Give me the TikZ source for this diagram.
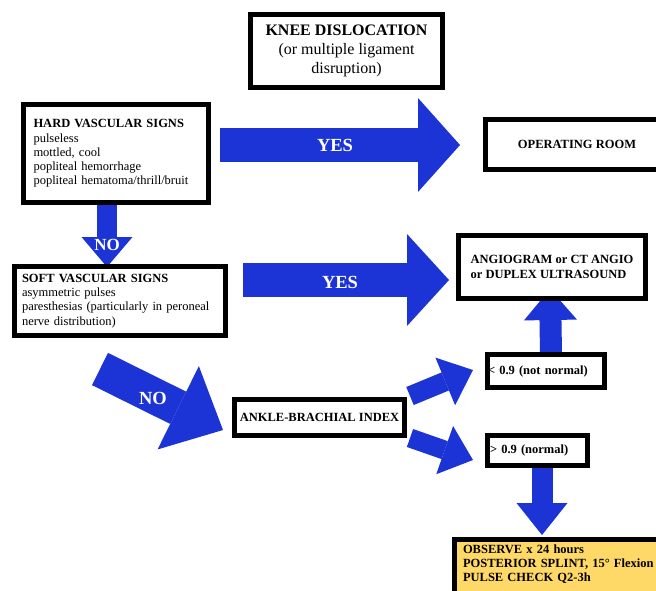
\documentclass[tikz,border=0pt]{standalone}
\usepackage{fontspec}
\setmainfont{Liberation Serif}
\usepackage{xcolor}
\usepackage{tikz}
\usetikzlibrary{positioning,arrows.meta,calc,shadows}

\definecolor{flowblue}{RGB}{28,52,214}
\definecolor{obsyellow}{RGB}{255,217,104}

\begin{document}
\begin{tikzpicture}[x=1pt,y=-1pt,
  box/.style={draw,line width=4.5pt,fill=white,inner sep=0pt,outer sep=0pt,
    drop shadow={shadow xshift=2.5pt,shadow yshift=-2.5pt,opacity=.25},
    font=\fontsize{12.5}{14.3}\selectfont},
  tb/.style={font=\bfseries\fontsize{12.5}{14.3}\selectfont},
  blk/.style n args={3}{draw=flowblue,line width=#1,
    -{Triangle[length=#3,width=#2,line width=0pt]}},
  lab/.style={text=white,font=\bfseries\fontsize{18.5}{20}\selectfont}]
\useasboundingbox (0,0) rectangle (656,590);
% arrow ends
\coordinate (y1s) at (220,145);  \coordinate (y1e) at (460,145);
\coordinate (n1s) at (107,200);  \coordinate (n1e) at (107,267);
\coordinate (y2s) at (243,280);  \coordinate (y2e) at (449,280);
\coordinate (n2s) at (100,369);  \coordinate (n2e) at (223,430);
\coordinate (a1s) at (410,396);  \coordinate (a1e) at (473,370);
\coordinate (a2s) at (410,438);  \coordinate (a2e) at (473,460);
\coordinate (ups) at (551,354);  \coordinate (upe) at (550,289);
\coordinate (dns) at (542,465);  \coordinate (dne) at (542,535);
% block arrows
\foreach \s/\e/\w/\hw/\hl in {y1s/y1e/34pt/94pt/42pt, n1s/n1e/20pt/51pt/30pt,
    y2s/y2e/34pt/92pt/42pt, n2s/n2e/36pt/93pt/50pt, a1s/a1e/19.5pt/51.5pt/30pt,
    a2s/a2e/19pt/51pt/30pt, ups/upe/22pt/53pt/31pt, dns/dne/21pt/51pt/32pt}{
  \draw[blk={\w}{\hw}{\hl}] (\s) -- (\e);}
\node[lab] (yes1) at (335,145) {YES};
\node[lab,font=\bfseries\fontsize{17}{19}\selectfont] (no1) at (107,245) {NO};
\node[lab] (yes2) at (340,282) {YES};
\node[lab] (no2) at (153,398) {NO};
% boxes
\node[box,minimum width=192pt,minimum height=73pt,align=center,
  font=\fontsize{16}{19}\selectfont] (knee) at (346.5,51)
  {\textbf{KNEE DISLOCATION}\\(or multiple ligament\\disruption)};
\node[box,minimum width=185pt,minimum height=98pt,text width=165pt,align=left] (hard) at (116,153.5)
  {\textbf{HARD VASCULAR SIGNS}\\pulseless\\mottled, cool\\popliteal hemorrhage\\popliteal hematoma/thrill/bruit};
\node[box,tb,minimum width=183pt,minimum height=50pt] (oproom) at (577,144.5) {OPERATING ROOM};
\node[box,minimum width=211pt,minimum height=69pt,text width=196pt,align=left] (soft) at (120,301)
  {\textbf{SOFT VASCULAR SIGNS}\\asymmetric pulses\\paresthesias (particularly in peroneal\\nerve distribution)};
\node[box,tb,minimum width=187pt,minimum height=63pt,align=left] (angio) at (552,267)
  {ANGIOGRAM or CT ANGIO\\or DUPLEX ULTRASOUND};
\node[box,tb,minimum width=170pt,minimum height=36pt] (abi) at (319.5,417.5) {ANKLE-BRACHIAL INDEX};
\node[box,tb,minimum width=117pt,minimum height=33pt,text width=116pt,align=left] (low) at (546,371)
  {< 0.9 (not normal)};
\node[box,tb,minimum width=100pt,minimum height=30pt,text width=95pt,align=left] (norm) at (537.5,450.5)
  {> 0.9 (normal)};
\node[box,tb,fill=obsyellow,anchor=north west,text width=240pt,align=left,
  inner xsep=8.5pt,inner ysep=5pt,text depth=60pt] (obs) at (454.5,539.5)
  {OBSERVE x 24 hours\\POSTERIOR SPLINT, 15° Flexion\\PULSE CHECK Q2-3h};
\end{tikzpicture}
\end{document}
